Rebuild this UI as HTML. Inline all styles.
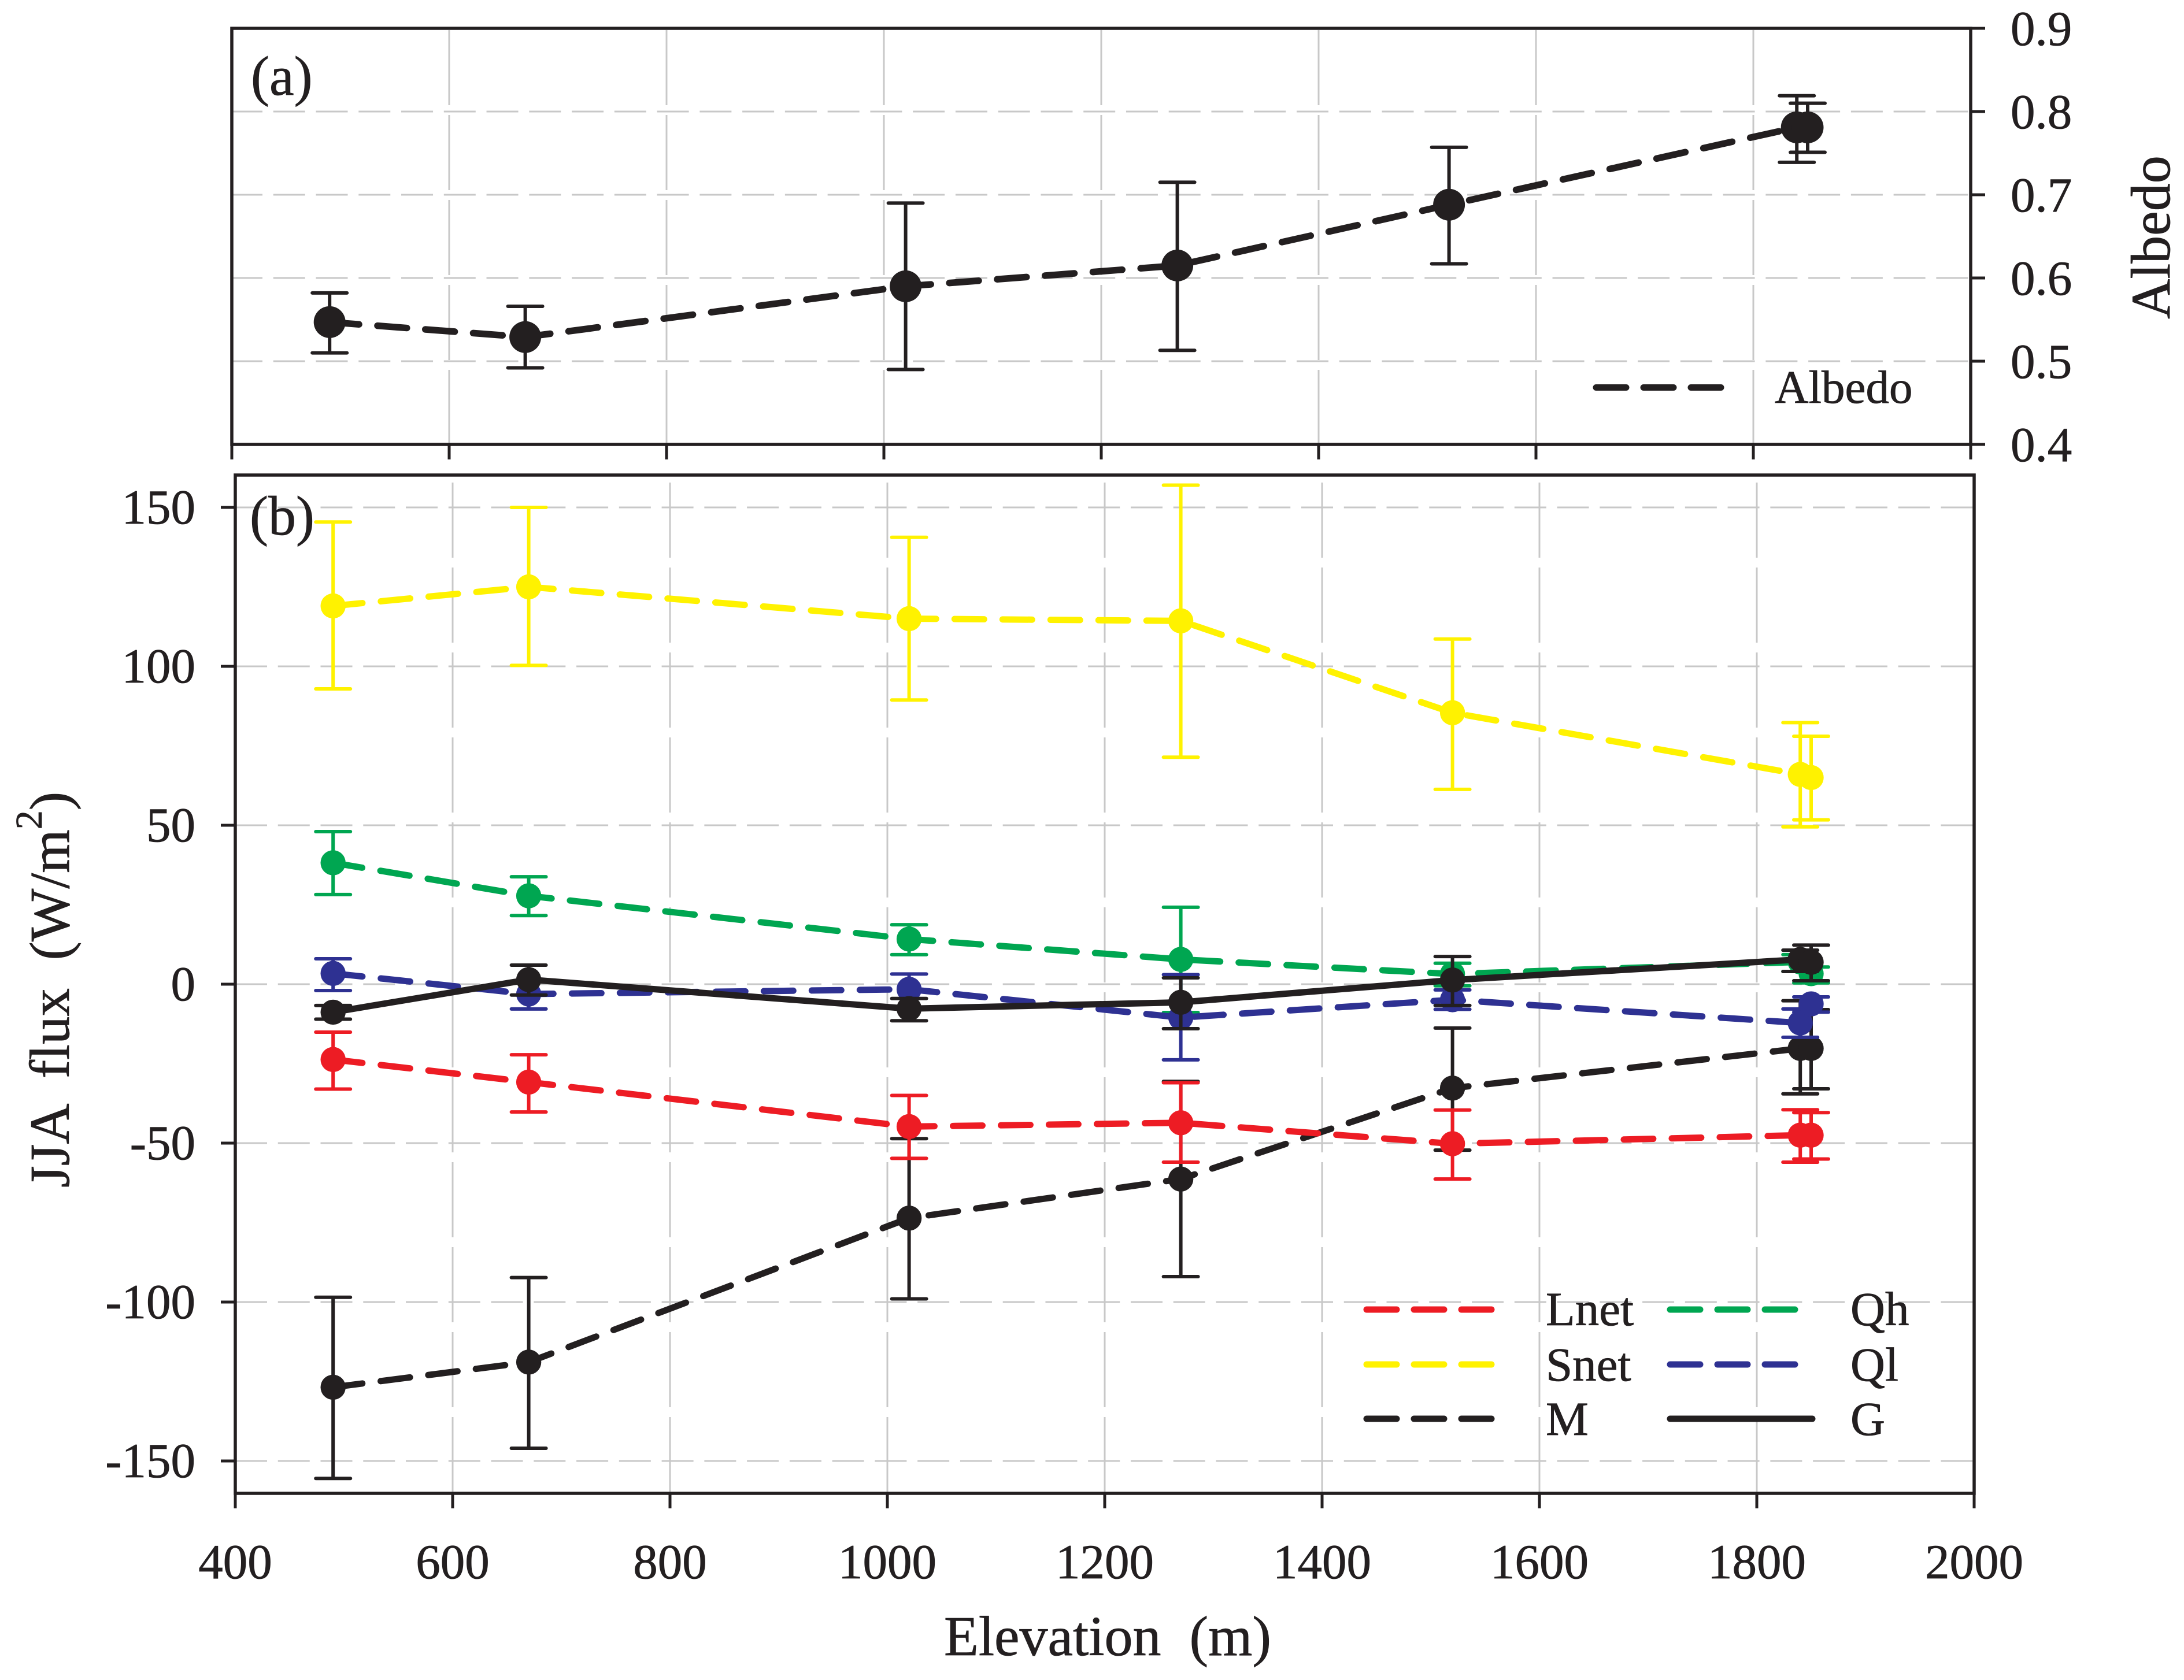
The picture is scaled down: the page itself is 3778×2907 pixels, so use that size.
<!DOCTYPE html>
<html lang="en">
<head>
<meta charset="utf-8">
<title>Albedo and JJA flux versus elevation</title>
<style>
html,body{margin:0;padding:0;background:#fff;}
svg{display:block;}
text{font-family:"Liberation Serif",serif;fill:#231f20;stroke:#231f20;stroke-width:0.8px;white-space:pre;}
</style>
</head>
<body>
<svg id="chart" xmlns="http://www.w3.org/2000/svg" width="3778" height="2907" viewBox="0 0 3778 2907">
  <rect x="0" y="0" width="3778" height="2907" fill="#ffffff"/>
  <g id="grid"></g>
  <g id="marks"></g>
  <g id="axes"></g>

  <text x="434" y="164" font-size="96">(a)</text>
  <text x="432" y="925" font-size="96">(b)</text>

  <text x="3753" y="410.5" font-size="96" text-anchor="middle" transform="rotate(-90 3753 410.5)">Albedo</text>
  <text x="119" y="2055" font-size="97" transform="rotate(-90 119 2055)">JJA  flux  (W/m<tspan font-size="66" dy="-47">2</tspan><tspan dy="47">)</tspan></text>
  <text x="1916" y="2864" font-size="98" text-anchor="middle">Elevation  (m)</text>

  <g>
    <line x1="2761" y1="670.5" x2="2978" y2="670.5" stroke="#231f20" stroke-width="11" stroke-linecap="round" stroke-dasharray="52 30"/>
    <text x="3070" y="697" font-size="81">Albedo</text>
  </g>

  <g>
    <line x1="2364" y1="2266" x2="2581" y2="2266" stroke="#ed1c24" stroke-width="11" stroke-linecap="round" stroke-dasharray="52 30"/>
    <line x1="2364" y1="2361" x2="2581" y2="2361" stroke="#fff200" stroke-width="11" stroke-linecap="round" stroke-dasharray="52 30"/>
    <line x1="2364" y1="2455" x2="2581" y2="2455" stroke="#231f20" stroke-width="11" stroke-linecap="round" stroke-dasharray="52 30"/>
    <line x1="2889" y1="2266" x2="3106" y2="2266" stroke="#00a651" stroke-width="11" stroke-linecap="round" stroke-dasharray="52 30"/>
    <line x1="2889" y1="2361" x2="3106" y2="2361" stroke="#2e3192" stroke-width="11" stroke-linecap="round" stroke-dasharray="52 30"/>
    <line x1="2889" y1="2455" x2="3135" y2="2455" stroke="#231f20" stroke-width="11" stroke-linecap="round"/>
    <text x="2674" y="2293" font-size="83">Lnet</text>
    <text x="2674" y="2389" font-size="83">Snet</text>
    <text x="2674" y="2483" font-size="83">M</text>
    <text x="3201" y="2293" font-size="83">Qh</text>
    <text x="3201" y="2389" font-size="83">Ql</text>
    <text x="3201" y="2483" font-size="83">G</text>
  </g>
</svg>
<script>
var elevations = [490, 670, 1020, 1270, 1520, 1840, 1850];

var albedoValues = [0.547, 0.529, 0.590, 0.615, 0.688, 0.781, 0.781];
var albedoUpper  = [0.582, 0.566, 0.690, 0.715, 0.757, 0.819, 0.810];
var albedoLower  = [0.510, 0.492, 0.490, 0.513, 0.617, 0.739, 0.751];

var mValues = [-126.8, -118.9, -73.6, -61.3, -32.7, -20.2, -20.2];
var mUpper  = [-98.5, -92.3, -48.6, -30.6, -13.8, -5.2, -8];
var mLower  = [-155.5, -146, -99, -92, -52.2, -34.5, -32.9];

var snetValues = [119, 125, 115, 114.3, 85.4, 66, 65];
var snetUpper  = [145.4, 150, 140.6, 157, 108.6, 82.3, 78];
var snetLower  = [92.9, 100.3, 89.4, 71.4, 61.3, 49.5, 51.7];

var lnetValues = [-23.7, -30.8, -44.8, -43.6, -50.2, -47.5, -47.5];
var lnetUpper  = [-15.1, -22.2, -35, -31, -39.6, -39.5, -40.4];
var lnetLower  = [-33, -40.2, -54.8, -56, -61.3, -56, -55];

var qhValues = [38.2, 27.8, 14.2, 7.8, 3.2, 7, 3.3];
var qhUpper  = [48, 33.8, 18.7, 24.2, 6.6, 9.3, 5.4];
var qhLower  = [28.2, 21.6, 9.3, -8.9, -0.5, 4, 0.4];

var qlValues = [3.4, -3.1, -1.6, -10.5, -4.9, -12.2, -6.2];
var qlUpper  = [8, 1, 3.2, 3, -1.8, -7.8, -4];
var qlLower  = [-2, -7.8, -7.5, -23.8, -7.9, -16.7, -8.8];

var gValues = [-8.8, 1.45, -7.7, -5.7, 1.3, 7.8, 6.9];
var gUpper  = [-6.7, 6, -4.5, 2, 8.7, 10.7, 12.3];
var gLower  = [-11, -3.4, -11.5, -14, -6.7, 4, 1.1];

var xTicks = [400, 600, 800, 1000, 1200, 1400, 1600, 1800, 2000];
var albedoTicks = ["0.4", "0.5", "0.6", "0.7", "0.8", "0.9"];
var fluxTicks = ["-150", "-100", "-50", "0", "50", "100", "150"];

var NS = "http://www.w3.org/2000/svg";
var INK = "#231f20";
var gridLayer = document.getElementById("grid");
var markLayer = document.getElementById("marks");
var axisLayer = document.getElementById("axes");

/* axis functions */
function xTop(v) { return 401 + (v - 400) * 1.88; }
function xBottom(v) { return 407 + (v - 400) * 1.88; }
function yAlbedo(v) { return 769 - (v - 0.4) * 1440; }
function yFlux(v) { return 1703 - v * 5.5; }

function make(tag, parent, attrs) {
  var node = document.createElementNS(NS, tag);
  for (var k in attrs) { node.setAttribute(k, attrs[k]); }
  parent.appendChild(node);
  return node;
}

function segment(parent, name, x1, y1, x2, y2, color, width, extra) {
  var attrs = { x1: x1, y1: y1, x2: x2, y2: y2, stroke: color, "stroke-width": width };
  for (var k in extra) { attrs[k] = extra[k]; }
  var el = make("line", parent, attrs);
  
  
  return el;
}

function label(name, x, y, str, anchor) {
  var el = make("text", axisLayer, { x: x, y: y, "font-size": 85, "text-anchor": anchor });
  
  
  el.textContent = str;
  return el;
}

function drawSeries(name, xFn, yFn, values, upper, lower, color, dashed, radius, lineWidth) {
  var group = make("g", markLayer, {});
  
  

  var pts = values.map(function (v, i) { return xFn(elevations[i]) + "," + yFn(v); }).join(" ");
  var lineAttrs = { points: pts, fill: "none", stroke: color, "stroke-width": lineWidth,
                    "stroke-linecap": "round", "stroke-linejoin": "round" };
  if (dashed) { lineAttrs["stroke-dasharray"] = "51 32"; }
  var line = make("polyline", group, lineAttrs);
  
  

  values.forEach(function (v, i) {
    var x = xFn(elevations[i]);
    var yu = yFn(upper[i]);
    var yl = yFn(lower[i]);
    var cap = { "stroke-linecap": "round" };
    segment(group, name + '-error-bar', x, yu, x, yl, color, 6, {});
    segment(group, name + '-error-cap-upper', x - 30, yu, x + 30, yu, color, 6, cap);
    segment(group, name + '-error-cap-lower', x - 30, yl, x + 30, yl, color, 6, cap);
  });

  values.forEach(function (v, i) {
    var dot = make("circle", group, { cx: xFn(elevations[i]), cy: yFn(v), r: radius, fill: color });
    
    
  });
}

/* gridlines */
var HDASH = "55 18.76";
var VDASH = "130 17";
albedoTicks.forEach(function (t) {
  var v = parseFloat(t);
  if (v > 0.4 && v < 0.9) {
    segment(gridLayer, 'albedo-gridline-horizontal', 401, yAlbedo(v), 3409, yAlbedo(v), "#c8c8c8", 3, { "stroke-dasharray": HDASH, "stroke-dashoffset": 2 });
  }
});
fluxTicks.forEach(function (t) {
  var v = parseFloat(t);
  segment(gridLayer, 'flux-gridline-horizontal', 407, yFlux(v), 3415, yFlux(v), "#c8c8c8", 3, { "stroke-dasharray": HDASH });
});
xTicks.forEach(function (v) {
  if (v > 400 && v < 2000) {
    segment(gridLayer, 'albedo-gridline-vertical', xTop(v), 52, xTop(v), 769, "#c8c8c8", 3, { "stroke-dasharray": VDASH });
    segment(gridLayer, 'flux-gridline-vertical', xBottom(v), 835, xBottom(v), 2584, "#c8c8c8", 3, { "stroke-dasharray": VDASH });
  }
});

/* data */
drawSeries('albedo', xTop, yAlbedo, albedoValues, albedoUpper, albedoLower, INK, true, 27.5, 11.5);
drawSeries('m', xBottom, yFlux, mValues, mUpper, mLower, INK, true, 21.7, 11);
drawSeries('snet', xBottom, yFlux, snetValues, snetUpper, snetLower, "#fff200", true, 21.7, 11);
drawSeries('lnet', xBottom, yFlux, lnetValues, lnetUpper, lnetLower, "#ed1c24", true, 21.7, 11);
drawSeries('qh', xBottom, yFlux, qhValues, qhUpper, qhLower, "#00a651", true, 21.7, 11);
drawSeries('ql', xBottom, yFlux, qlValues, qlUpper, qlLower, "#2e3192", true, 21.7, 11);
drawSeries('g', xBottom, yFlux, gValues, gUpper, gLower, INK, false, 21.7, 11);

/* frames */
var frameA = make("rect", axisLayer, { x: 401, y: 49, width: 3008, height: 720, fill: "none", stroke: INK, "stroke-width": 5.5 });


var frameB = make("rect", axisLayer, { x: 407, y: 822, width: 3008, height: 1762, fill: "none", stroke: INK, "stroke-width": 5.5 });



/* ticks and tick labels */
xTicks.forEach(function (v) {
  segment(axisLayer, 'albedo-panel-x-tick', xTop(v), 769, xTop(v), 795, INK, 5, {});
  segment(axisLayer, 'x-axis-tick', xBottom(v), 2584, xBottom(v), 2610, INK, 5, {});
  label('x-tick-label', xBottom(v), 2731, String(v), "middle");
});
albedoTicks.forEach(function (t) {
  var v = parseFloat(t);
  segment(axisLayer, 'albedo-y-tick', 3409, yAlbedo(v), 3434, yAlbedo(v), INK, 5, {});
  label('albedo-tick-label', 3478, yAlbedo(v) + 29, t, "start");
});
fluxTicks.forEach(function (t) {
  var v = parseFloat(t);
  segment(axisLayer, 'flux-y-tick', 382, yFlux(v), 407, yFlux(v), INK, 5, {});
  label('flux-tick-label', 338, yFlux(v) + 28, t, "end");
});
</script>
</body>
</html>
